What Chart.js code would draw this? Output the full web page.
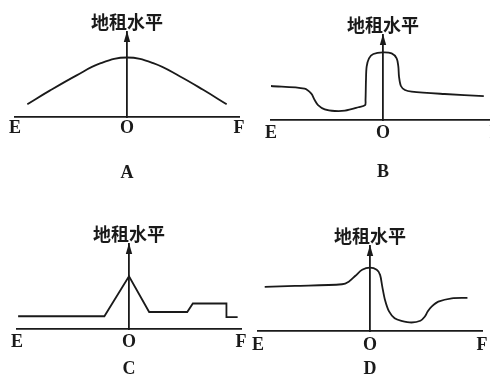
<!DOCTYPE html>
<html>
<head>
<meta charset="utf-8">
<script src="https://cdn.jsdelivr.net/npm/chart.js@4/dist/chart.umd.min.js"></script>
<style>
html, body { margin: 0; padding: 0; background: #fff; width: 490px; height: 381px; overflow: hidden; }
canvas { position: absolute; }
</style>
</head>
<body>
<canvas id="cA"></canvas>
<canvas id="cB"></canvas>
<canvas id="cC"></canvas>
<canvas id="cD"></canvas>
<script>
// x runs from E (-100) through O (0) to F (100); y is rent level, 0 on the E-F line, 100 at the arrow tip
var tickValues = [-100, 0, 100];
var tickLabels = ['E', 'O', 'F'];
var axisTitle = '地租水平';
var panelLetters = ['A', 'B', 'C', 'D'];

var aX = [-89, -69, -45, -24, 0, 24, 47, 68, 89];
var aY = [15, 31, 49, 63, 70, 63, 48, 32, 15];

var bX = [-100, -70, -64, -61, -58, -52, -43, -34, -22, -16, -15.6, -15.2, -14.6, -12.5, -8.6, 0, 7.7, 12.2, 13.7, 14.3, 16, 19.6, 25.6, 55, 90];
var bY = [40, 37, 31, 23.5, 17.6, 12.5, 10.6, 11, 15, 17.6, 23.5, 47, 62.7, 72.5, 77.6, 79.6, 78.4, 72.5, 62.7, 51, 40, 35.3, 33.3, 30.6, 28.2];

var cX = [-99, -22, 0, 18, 52, 57, 87, 87, 97];
var cY = [15, 15, 62, 20, 20, 30, 30, 14, 14];

var dX = [-94, -67, -25, -19, -13, -7, 0, 6, 9, 11, 13.4, 17, 22, 28, 37, 45, 49, 51.5, 55, 61, 73, 87];
var dY = [52, 53, 55, 58, 65, 72, 74.5, 72, 66, 52, 36.5, 23, 15, 12, 10, 12, 17, 23, 28.6, 34.5, 38.5, 39];

var ink = '#1a1a1a';
var serif = '"Liberation Serif", "Times New Roman", serif';

var arrowPlugin = {
    id: 'arrow',
    afterDraw: function(chart) {
        var ctx = chart.ctx;
        var x = chart.scales.x.getPixelForValue(0);
        var y = chart.scales.y.getPixelForValue(100);
        ctx.save();
        ctx.fillStyle = ink;
        ctx.beginPath();
        ctx.moveTo(x, y - 1);
        ctx.lineTo(x - 3.2, y + 10);
        ctx.lineTo(x + 3.2, y + 10);
        ctx.closePath();
        ctx.fill();
        ctx.restore();
    }
};

function drawPanel(id, letter, xs, ys, tension, area, tickPad, letterPad) {
    var padL = 20, padR = 20, padT = 32;
    var areaW = 224, areaH = 85;
    var fs = 18;
    var axisH = fs * 2 + tickPad * 2 + letterPad;
    var H = Math.ceil(padT + areaH + axisH + 4);
    var padB = H - padT - areaH - axisH;

    var canvas = document.getElementById(id);
    canvas.width = padL + areaW + padR;
    canvas.height = H;
    canvas.style.left = (area.left - padL) + 'px';
    canvas.style.top = (area.top - padT) + 'px';

    var points = xs.map(function(x, i) { return {x: x, y: ys[i]}; });
    var labelFont = { family: serif, size: fs, weight: 'bold', lineHeight: 1 };

    return new Chart(canvas, {
        type: 'line',
        data: {
            datasets: [{
                data: points,
                borderColor: ink,
                borderWidth: 1.8,
                pointRadius: 0,
                tension: tension,
                fill: false
            }]
        },
        options: {
            responsive: false,
            animation: false,
            layout: { padding: { left: padL, right: padR, top: 0, bottom: padB } },
            plugins: {
                legend: { display: false },
                tooltip: { enabled: false },
                title: {
                    display: true,
                    text: axisTitle,
                    color: ink,
                    font: { family: '"Noto Sans CJK SC"', size: 18, weight: 'bold', lineHeight: 1 },
                    padding: { top: padT - 19, bottom: 1 }
                }
            },
            scales: {
                x: {
                    type: 'linear',
                    min: -100,
                    max: 100,
                    grid: { display: false, drawTicks: false, tickLength: 0 },
                    border: { display: true, color: ink, width: 1.8 },
                    afterBuildTicks: function(s) {
                        s.ticks = tickValues.map(function(v) { return {value: v}; });
                    },
                    ticks: {
                        autoSkip: false,
                        maxRotation: 0,
                        padding: tickPad,
                        color: ink,
                        font: labelFont,
                        callback: function(v) { return tickLabels[tickValues.indexOf(v)]; }
                    },
                    title: {
                        display: true,
                        text: letter,
                        color: ink,
                        font: labelFont,
                        padding: { top: letterPad, bottom: 0 }
                    }
                },
                y: {
                    type: 'linear',
                    min: 0,
                    max: 100,
                    position: { x: 0 },
                    grid: { display: false, drawTicks: false, tickLength: 0 },
                    border: { display: true, color: ink, width: 1.8 },
                    ticks: { display: false }
                }
            }
        },
        plugins: [arrowPlugin]
    });
}

drawPanel('cA', panelLetters[0], aX, aY, 0.4, {left: 15, top: 32}, 2, 25);
drawPanel('cB', panelLetters[1], bX, bY, 0.3, {left: 271, top: 35}, 4, 17);
drawPanel('cC', panelLetters[2], cX, cY, 0, {left: 17, top: 244}, 4, 5);
drawPanel('cD', panelLetters[3], dX, dY, 0.3, {left: 258, top: 246}, 5.5, 0);
</script>
</body>
</html>
